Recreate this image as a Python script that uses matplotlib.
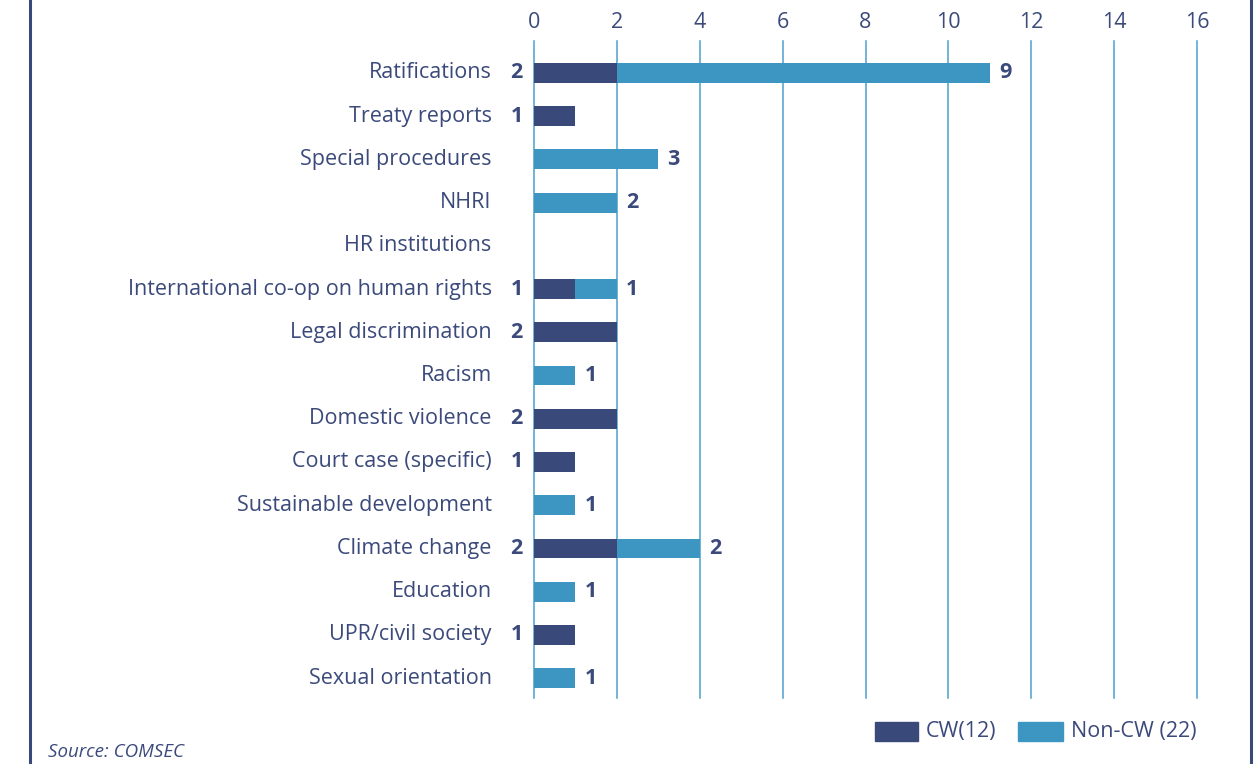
import matplotlib
matplotlib.use("Agg")
import matplotlib.pyplot as plt
from matplotlib.lines import Line2D
from matplotlib.patches import Rectangle

categories = ["Ratifications", "Treaty reports", "Special procedures", "NHRI",
              "HR institutions", "International co-op on human rights",
              "Legal discrimination", "Racism", "Domestic violence",
              "Court case (specific)", "Sustainable development",
              "Climate change", "Education", "UPR/civil society",
              "Sexual orientation"]
cw = [2, 1, 0, 0, 0, 1, 2, 0, 2, 1, 0, 2, 0, 1, 0]
noncw = [9, 0, 3, 2, 0, 1, 0, 1, 0, 0, 1, 2, 1, 0, 1]
xticks = [0, 2, 4, 6, 8, 10, 12, 14, 16]
legend_labels = ["CW(12)", "Non-CW (22)"]
source = "Source: COMSEC"

NAVY = "#394a7a"
BLUE = "#3d96c1"
GRID = "#4d9fcb"
TEXT = "#3b4a7b"
FONT = "Open Sans"
FS = 15.5

W, H = 1259, 764
fig = plt.figure(figsize=(W / 100, H / 100), dpi=100)
ax = fig.add_axes([534 / W, 1 - 698 / H, (1197 - 534) / W, (698 - 41) / H])

y = list(range(len(categories)))
ax.barh(y, cw, height=0.46, color=NAVY, zorder=3)
ax.barh(y, noncw, left=cw, height=0.46, color=BLUE, zorder=3)

for i, (a, b) in enumerate(zip(cw, noncw)):
    if a > 0:
        ax.text(-0.27, i, str(a), ha="right", va="center", fontsize=FS,
                fontweight="bold", color=TEXT, family=FONT)
    if b > 0:
        ax.text(a + b + 0.22, i, str(b), ha="left", va="center", fontsize=FS,
                fontweight="bold", color=TEXT, family=FONT)
    ax.text(-1.02, i, categories[i], ha="right", va="center", fontsize=FS,
            color=TEXT, family=FONT)

ax.set_xlim(0, 16)
ax.set_ylim(len(categories) - 1 + 0.46, -0.74)
ax.set_yticks([])
ax.xaxis.tick_top()
ax.set_xticks(xticks)
ax.set_xticklabels([str(t) for t in xticks], fontsize=FS, color=TEXT, family=FONT)
ax.tick_params(axis="x", length=0, pad=6)
for s in ax.spines.values():
    s.set_visible(False)
ax.grid(axis="x", color=GRID, linewidth=1.1, zorder=0)
for gl in ax.get_xgridlines():
    gl.set_clip_on(False)
ax.set_axisbelow(True)

# frame borders
fig.add_artist(Line2D([30 / W, 30 / W], [0, 1], color=NAVY, linewidth=2.2))
fig.add_artist(Line2D([1251 / W, 1251 / W], [0, 1], color=NAVY, linewidth=2.2))

# legend
fig.add_artist(Rectangle((875 / W, 1 - 741 / H), 43 / W, 19 / H, color=NAVY,
                         transform=fig.transFigure))
fig.text(926 / W, 1 - 731 / H, legend_labels[0], ha="left", va="center",
         fontsize=FS, color=TEXT, family=FONT)
fig.add_artist(Rectangle((1018 / W, 1 - 741 / H), 45 / W, 19 / H, color=BLUE,
                         transform=fig.transFigure))
fig.text(1071 / W, 1 - 731 / H, legend_labels[1], ha="left", va="center",
         fontsize=FS, color=TEXT, family=FONT)

fig.text(48 / W, 1 - 752 / H, source, ha="left", va="center", fontsize=13.5,
         style="italic", color=TEXT, family=FONT)

fig.savefig("out.png", dpi=100)
